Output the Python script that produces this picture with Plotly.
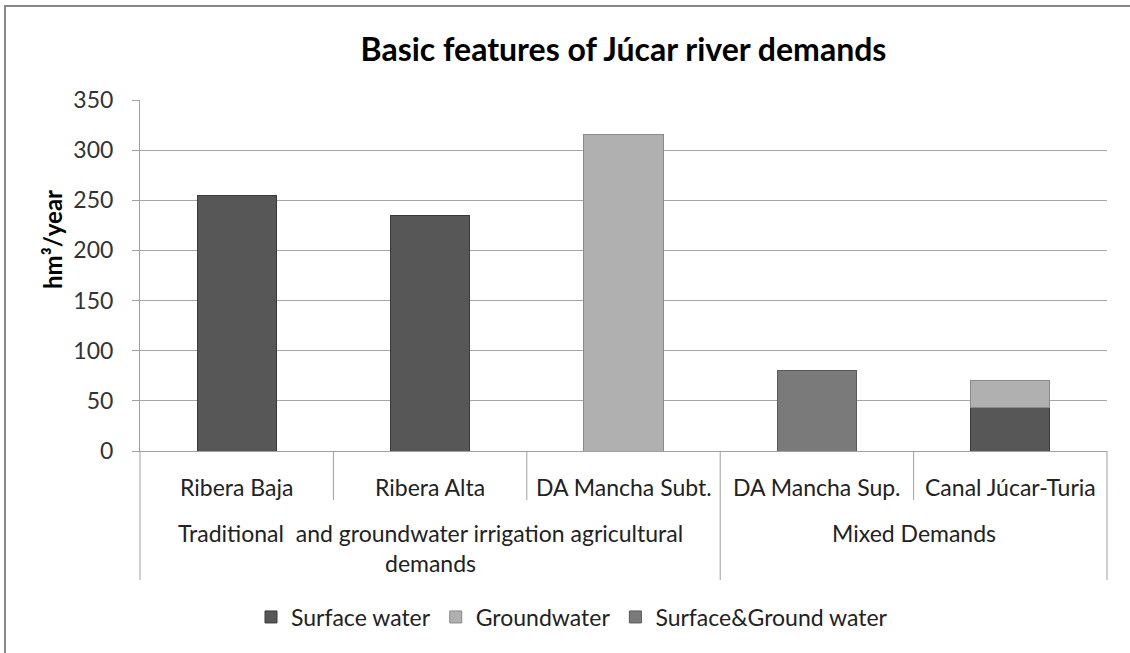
import plotly.graph_objects as go

categories = ["Ribera Baja", "Ribera Alta", "DA Mancha Subt.", "DA Mancha Sup.", "Canal Júcar-Turia"]
surface_water = [255, 235, None, None, 43]
groundwater = [None, None, 316, None, 27]
surface_ground = [None, None, None, 80, None]
groups = ["Traditional  and groundwater irrigation agricultural", "demands"]
group2 = "Mixed Demands"
y_ticks = [0, 50, 100, 150, 200, 250, 300, 350]

FONT = "Lato, 'Open Sans', sans-serif"

W, H = 1130, 653
L, R, T, B = 140, 23, 100, 202
ph = H - T - B
pw = W - L - R

def py(pix):
    return (H - B - pix) / ph

def px(pix):
    return (pix - L) / pw

fig = go.Figure()
fig.add_bar(x=categories, y=surface_water, name="Surface water",
            marker=dict(color="#575757", line=dict(color="#3a3a3a", width=1)))
fig.add_bar(x=categories, y=groundwater, name="Groundwater",
            marker=dict(color="#b0b0b0", line=dict(color="#8a8a8a", width=1)))
fig.add_bar(x=categories, y=surface_ground, name="Surface&Ground water",
            marker=dict(color="#7a7a7a", line=dict(color="#5a5a5a", width=1)))

fig.update_layout(
    barmode="stack",
    bargap=0.59,
    width=W, height=H,
    margin=dict(l=L, r=R, t=T, b=B),
    paper_bgcolor="white", plot_bgcolor="white",
    font=dict(family=FONT, color="#222", size=22),
    title=dict(text="<b>Basic features of Júcar river demands</b>", x=0.5, xref="paper",
               xanchor="center", y=1 - 50 / H, yanchor="middle",
               font=dict(size=32, color="#000", family=FONT)),
    showlegend=True,
    legend=dict(orientation="h", x=px(572), xanchor="center", y=py(617), yanchor="middle",
                font=dict(size=23, color="#222"), itemwidth=30, traceorder="normal",
                tracegroupgap=0),
    xaxis=dict(showticklabels=False, showgrid=False, ticks="", showline=True,
               linecolor="#a0a0a0", linewidth=1, fixedrange=True),
    yaxis=dict(range=[0, 350], tickvals=y_ticks, showgrid=True, gridcolor="#a6a6a6",
               gridwidth=1, showline=True, linecolor="#a0a0a0", linewidth=1,
               ticks="outside", ticklen=7, tickcolor="#a0a0a0", ticklabelstandoff=14,
               tickfont=dict(size=23, color="#333"), zeroline=False),
)

fig.add_annotation(x=px(53), y=py(240), xref="paper", yref="paper", text="<b>hm³/year</b>",
                   textangle=-90, showarrow=False, xanchor="center", yanchor="middle",
                   font=dict(size=24, color="#000"))

# category labels
for i, c in enumerate(categories):
    fig.add_annotation(x=c, y=py(487), xref="x", yref="paper", text=c, showarrow=False,
                       font=dict(size=23, color="#222"), xanchor="center", yanchor="middle")

fig.add_annotation(x=0.3, y=py(533), xref="paper", yref="paper", text=groups[0], showarrow=False,
                   font=dict(size=23, color="#222"), xanchor="center", yanchor="middle")
fig.add_annotation(x=0.3, y=py(563), xref="paper", yref="paper", text=groups[1], showarrow=False,
                   font=dict(size=23, color="#222"), xanchor="center", yanchor="middle")
fig.add_annotation(x=0.8, y=py(533), xref="paper", yref="paper", text=group2, showarrow=False,
                   font=dict(size=23, color="#222"), xanchor="center", yanchor="middle")

lc = "#a0a0a0"
for xb in [0.2, 0.4, 0.8]:
    fig.add_shape(type="line", xref="paper", yref="paper", x0=xb, x1=xb, y0=0, y1=py(500),
                  line=dict(color=lc, width=1))
for xb in [0.0, 0.6, 1.0]:
    fig.add_shape(type="line", xref="paper", yref="paper", x0=xb, x1=xb, y0=0, y1=py(580),
                  line=dict(color=lc, width=1))

# chart border (top and left visible)
fig.add_shape(type="line", xref="paper", yref="paper", x0=px(5), x1=px(1135), y0=py(6), y1=py(6),
              line=dict(color="#888", width=2))
fig.add_shape(type="line", xref="paper", yref="paper", x0=px(5), x1=px(5), y0=py(5), y1=py(660),
              line=dict(color="#888", width=2))

fig.write_html("out.html", config={"displayModeBar": False},
               post_script="document.body.style.margin='0';document.body.style.overflow='hidden';")
